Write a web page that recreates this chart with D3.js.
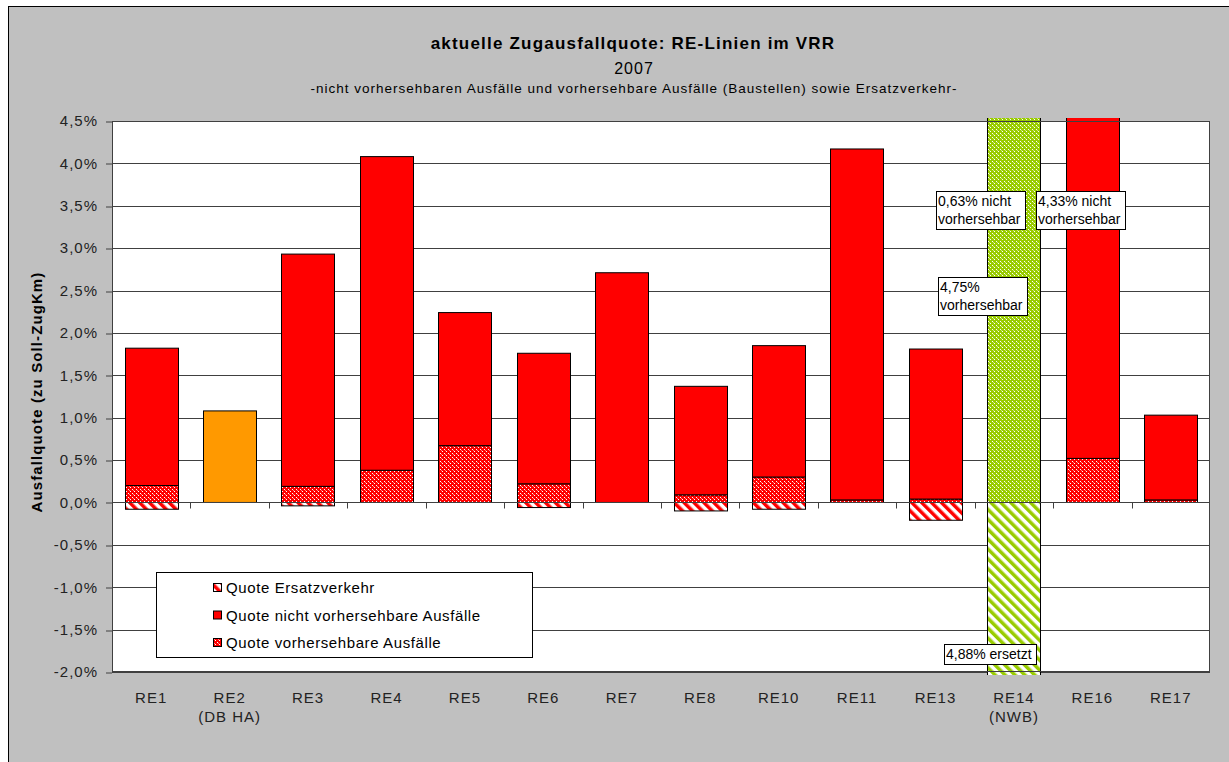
<!DOCTYPE html>
<html>
<head>
<meta charset="utf-8">
<script src="https://cdn.jsdelivr.net/npm/d3@7/dist/d3.min.js"></script>
<style>
    body { margin: 0; background: #fff; }
    svg { display: block; font-family: "Liberation Sans", Arial, sans-serif; }
</style>
</head>
<body>
<div id="chart"></div>
<script>
// values in percent of Soll-ZugKm
const lines = ["RE1", "RE2", "RE3", "RE4", "RE5", "RE6", "RE7", "RE8", "RE10", "RE11", "RE13", "RE14", "RE16", "RE17"];
const operators = ["", "(DB HA)", "", "", "", "", "", "", "", "", "", "(NWB)", "", ""];
const vorhersehbar = [0.20, 0.00, 0.19, 0.38, 0.67, 0.22, 0.00, 0.09, 0.30, 0.03, 0.04, 4.75, 0.52, 0.03];
const nichtVorhersehbar = [1.62, 1.08, 2.74, 3.70, 1.57, 1.54, 2.71, 1.28, 1.55, 4.14, 1.77, 0.63, 4.33, 1.00];
const ersatzverkehr = [-0.08, 0.00, -0.04, 0.00, 0.00, -0.06, 0.00, -0.10, -0.08, 0.00, -0.21, -4.88, 0.00, 0.00];
const yTicks = [-2.0, -1.5, -1.0, -0.5, 0.0, 0.5, 1.0, 1.5, 2.0, 2.5, 3.0, 3.5, 4.0, 4.5];
const legendLabels = ["Quote Ersatzverkehr", "Quote nicht vorhersehbare Ausfälle", "Quote vorhersehbare Ausfälle"];
const labelledLines = ["RE14", "RE16"];

const de = d3.formatLocale({ decimal: ",", thousands: ".", grouping: [3], currency: ["", " €"], minus: "-" });
const pct1 = v => de.format(".1f")(v) + "%";
const pct2 = v => de.format(".2f")(Math.abs(v)) + "%";

const colorByOperator = { "(DB HA)": "#ff9900", "(NWB)": "#99cc00" };
const baseColor = i => colorByOperator[operators[i]] || "#ff0000";

const W = 1229, H = 762;
const margin = { left: 112, top: 121, right: 19, bottom: 90 };
const innerW = W - margin.left - margin.right;
const innerH = H - margin.top - margin.bottom;

const svg = d3.select("#chart").append("svg").attr("width", W).attr("height", H);

// patterns, one set per colour
const defs = svg.append("defs");
function addPatterns(color, key) {
    const dots = defs.append("pattern").attr("id", "dots-" + key)
        .attr("patternUnits", "userSpaceOnUse").attr("width", 4).attr("height", 4);
    dots.append("rect").attr("width", 4).attr("height", 4).attr("fill", color);
    [[0, 0], [2, 2], [1, 1]].forEach(([px, py]) => {
        dots.append("rect").attr("x", px).attr("y", py).attr("width", 1).attr("height", 1)
            .attr("fill", "#fff").attr("opacity", px === 1 ? 0.5 : 1);
    });
    const stripes = defs.append("pattern").attr("id", "stripes-" + key)
        .attr("patternUnits", "userSpaceOnUse").attr("width", 7).attr("height", 7)
        .attr("patternTransform", "rotate(-45)");
    stripes.append("rect").attr("width", 7).attr("height", 7).attr("fill", "#fff");
    stripes.append("rect").attr("width", 3.5).attr("height", 7).attr("fill", color);
}
addPatterns("#ff0000", "ff0000");
addPatterns("#ff9900", "ff9900");
addPatterns("#99cc00", "99cc00");
const key = c => c.replace("#", "");

// chart area background with frame
svg.append("rect").attr("x", 8.5).attr("y", 6.5).attr("width", 1240).attr("height", 780)
    .attr("fill", "#c0c0c0").attr("stroke", "#000");

// titles
svg.append("text").attr("x", 633).attr("y", 49).attr("text-anchor", "middle")
    .attr("font-size", 17).attr("font-weight", "bold").attr("letter-spacing", 1.2).attr("fill", "#000")
    .text("aktuelle Zugausfallquote: RE-Linien im VRR");
svg.append("text").attr("x", 634).attr("y", 74).attr("text-anchor", "middle")
    .attr("font-size", 16).attr("letter-spacing", 1).attr("fill", "#000").text("2007");
svg.append("text").attr("x", 634).attr("y", 93).attr("text-anchor", "middle")
    .attr("font-size", 13.5).attr("letter-spacing", 1).attr("fill", "#000")
    .text("-nicht vorhersehbaren Ausfälle und vorhersehbare Ausfälle (Baustellen) sowie Ersatzverkehr-");

// y axis title
svg.append("text").attr("transform", "translate(42,392) rotate(-90)")
    .attr("text-anchor", "middle").attr("font-size", 15).attr("font-weight", "bold")
    .attr("letter-spacing", 1.1).attr("fill", "#000")
    .text("Ausfallquote (zu Soll-ZugKm)");

const g = svg.append("g").attr("transform", `translate(${margin.left},${margin.top})`);

const x = d3.scaleBand().domain(lines).range([0, innerW]).paddingInner(0.32).paddingOuter(0.16);
const y = d3.scaleLinear().domain([-2, 4.5]).range([innerH, 0]);

g.append("rect").attr("width", innerW).attr("height", innerH).attr("fill", "#fff");

// grid lines
g.append("g").selectAll("line").data(yTicks).join("line")
    .attr("x1", 0).attr("x2", innerW)
    .attr("y1", d => Math.round(y(d)) + 0.5).attr("y2", d => Math.round(y(d)) + 0.5)
    .attr("stroke", "#404040").attr("stroke-width", 1);

// y axis
const yAxis = g.append("g")
    .call(d3.axisLeft(y).tickValues(yTicks).tickSize(6).tickPadding(8).tickFormat(pct1));
yAxis.select(".domain").remove();
yAxis.selectAll(".tick line").attr("stroke", "#404040")
    .attr("transform", d => `translate(0,${Math.round(y(d)) + 0.5 - y(d)})`);
yAxis.selectAll(".tick text").attr("font-size", 15).attr("letter-spacing", 1)
    .attr("fill", "#222").attr("font-family", "Liberation Sans, Arial, sans-serif");

// bars
g.append("clipPath").attr("id", "plotclip")
    .append("rect").attr("x", 0).attr("y", -3).attr("width", innerW).attr("height", innerH + 6);

const segments = [];
lines.forEach((line, i) => {
    const c = key(baseColor(i));
    if (ersatzverkehr[i] < 0) segments.push({ line, y0: ersatzverkehr[i], y1: 0, fill: `url(#stripes-${c})` });
    if (vorhersehbar[i] > 0) segments.push({ line, y0: 0, y1: vorhersehbar[i], fill: `url(#dots-${c})` });
    segments.push({ line, y0: vorhersehbar[i], y1: vorhersehbar[i] + nichtVorhersehbar[i], fill: baseColor(i) });
});

g.append("g").attr("clip-path", "url(#plotclip)")
    .selectAll("rect").data(segments).join("rect")
    .attr("x", d => Math.round(x(d.line)) + 0.5)
    .attr("width", Math.round(x.bandwidth()))
    .attr("y", d => y(d.y1))
    .attr("height", d => y(d.y0) - y(d.y1))
    .attr("fill", d => d.fill)
    .attr("stroke", "#000").attr("stroke-width", 1);

// plot frame and category ticks on the zero line
g.append("rect").attr("x", 0.5).attr("y", 0.5).attr("width", innerW - 1).attr("height", innerH - 1)
    .attr("fill", "none").attr("stroke", "#404040");
const zeroY = Math.round(y(0)) + 0.5;
g.append("line").attr("x1", 0).attr("x2", innerW).attr("y1", zeroY).attr("y2", zeroY).attr("stroke", "#404040");
g.append("g").selectAll("line").data(lines.slice(1)).join("line")
    .attr("x1", d => Math.round(x(d) - x.step() * x.paddingInner() / 2) + 0.5)
    .attr("x2", d => Math.round(x(d) - x.step() * x.paddingInner() / 2) + 0.5)
    .attr("y1", zeroY).attr("y2", zeroY + 6).attr("stroke", "#404040");

// category labels
const xl = g.append("g").attr("font-size", 15).attr("letter-spacing", 1).attr("fill", "#222")
    .attr("text-anchor", "middle");
lines.forEach((line, i) => {
    const cx = x(line) + x.bandwidth() / 2;
    xl.append("text").attr("x", cx).attr("y", innerH + 31).text(line);
    if (operators[i]) xl.append("text").attr("x", cx).attr("y", innerH + 50).text(operators[i]);
});

// legend
const lg = svg.append("g").attr("transform", "translate(156,572)");
lg.append("rect").attr("x", 0.5).attr("y", 0.5).attr("width", 376).attr("height", 85)
    .attr("fill", "#fff").attr("stroke", "#000");
const legendFills = ["url(#stripes-ff0000)", "#ff0000", "url(#dots-ff0000)"];
legendLabels.forEach((label, i) => {
    const row = lg.append("g").attr("transform", `translate(57,${15 + i * 27.5})`);
    row.append("rect").attr("x", 0.5).attr("y", -3.5).attr("width", 8).attr("height", 8)
        .attr("fill", legendFills[i]).attr("stroke", "#000");
    row.append("text").attr("x", 13).attr("y", 6).attr("font-size", 15).attr("letter-spacing", 0.6)
        .attr("fill", "#000").text(label);
});

// data labels for the lines that leave the plot range
const idx = l => lines.indexOf(l);
const centre = l => x(l) + x.bandwidth() / 2;
const notes = [
    { line: "RE14", dx: -78, v: 3.45, text: [pct2(nichtVorhersehbar[idx("RE14")]) + " nicht", "vorhersehbar"] },
    { line: "RE16", dx: -56, v: 3.45, text: [pct2(nichtVorhersehbar[idx("RE16")]) + " nicht", "vorhersehbar"] },
    { line: "RE14", dx: -76, v: 2.43, text: [pct2(vorhersehbar[idx("RE14")]), "vorhersehbar"] },
    { line: "RE14", dx: -70, v: -1.79, text: [pct2(ersatzverkehr[idx("RE14")]) + " ersetzt"] }
].filter(n => labelledLines.includes(n.line));

notes.forEach(n => {
    const h = n.text.length * 18 + 2;
    const ng = g.append("g").attr("transform", `translate(${Math.round(centre(n.line) + n.dx)},${Math.round(y(n.v) - h / 2)})`);
    const box = ng.append("rect").attr("x", 0.5).attr("y", 0.5).attr("height", h)
        .attr("fill", "#fff").attr("stroke", "#000");
    const t = ng.append("text").attr("font-size", 14).attr("fill", "#000");
    n.text.forEach((s, k) => t.append("tspan").attr("x", 2).attr("y", 15 + k * 18).text(s));
    box.attr("width", Math.ceil(t.node().getBBox().width) + 6);
});
</script>
</body>
</html>
